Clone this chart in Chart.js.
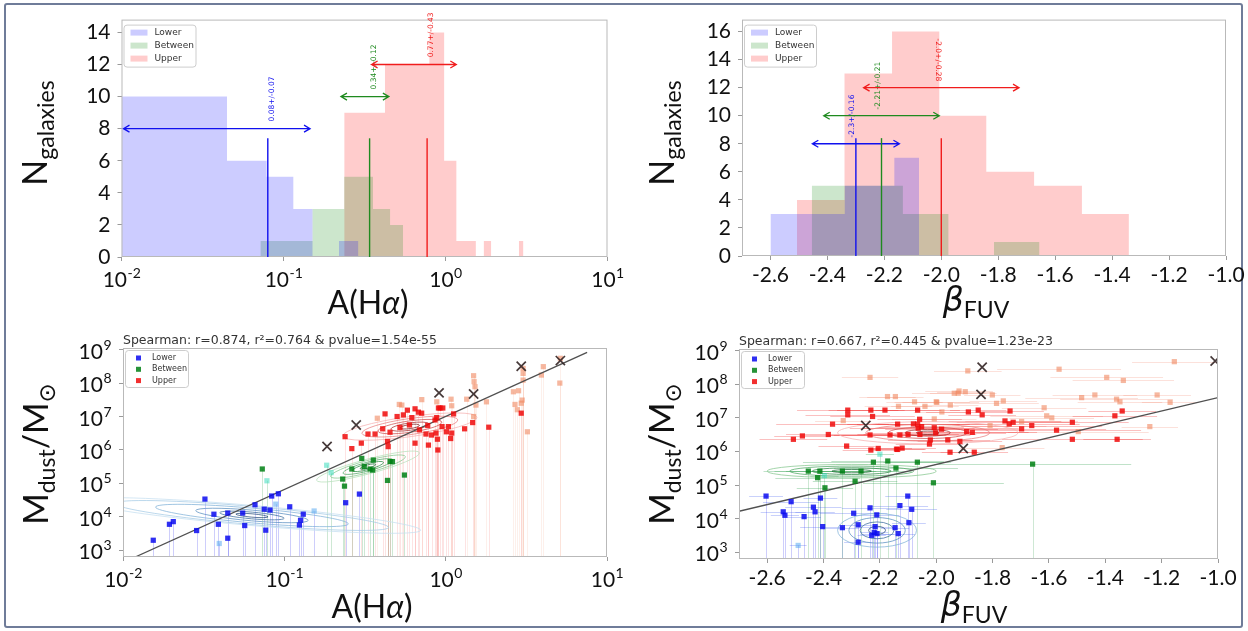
<!DOCTYPE html>
<html lang="en">
<head>
<meta charset="utf-8">
<title>Dust mass vs A(Hα) and β_FUV</title>
<script src="https://cdn.jsdelivr.net/npm/chart.js"></script>
<style>
  html, body { margin: 0; padding: 0; background: #fff; }
  body { width: 1248px; height: 631px; position: relative; overflow: hidden; font-family: Lato, "DejaVu Sans", sans-serif; color: #111; }
  #frame { position: absolute; left: 4px; top: 3px; width: 1239px; height: 625px; border: 2px solid #6f7c99; border-radius: 3px; box-sizing: border-box; }
  canvas { position: absolute; }
  .xt, .yt { position: absolute; white-space: nowrap; line-height: 1; }
  .xt { transform: translate(-50%, -50%); font-size: 32px; }
  .yt { transform: translate(-50%, -50%) rotate(-90deg); font-size: 34px; }
  .sub { font-size: 23px; vertical-align: -0.32em; }
  .beta { font-family: "DejaVu Sans", sans-serif; font-style: italic; font-size: 33px; }
</style>
</head>
<body>
<div id="frame"></div>
<canvas id="histAha" width="590" height="300" style="left:40px;top:0"></canvas>
<canvas id="histBeta" width="618" height="300" style="left:630px;top:0"></canvas>
<canvas id="dustAha" width="590" height="321" style="left:40px;top:310px"></canvas>
<canvas id="dustBeta" width="618" height="321" style="left:630px;top:310px"></canvas>

<div class="yt" style="left:37px;top:133px">N<span class="sub">galaxies</span></div>
<div class="yt" style="left:664px;top:133px">N<span class="sub">galaxies</span></div>
<div class="yt" style="left:38px;top:454px">M<span class="sub">dust</span>/M<span class="sub">⊙</span></div>
<div class="yt" style="left:664px;top:454px">M<span class="sub">dust</span>/M<span class="sub">⊙</span></div>
<div class="xt" style="left:368px;top:302px">A(H<i>α</i>)</div>
<div class="xt" style="left:372px;top:606px">A(H<i>α</i>)</div>
<div class="xt" style="left:976px;top:302px"><span class="beta">β</span><span class="sub">FUV</span></div>
<div class="xt" style="left:974px;top:607px"><span class="beta">β</span><span class="sub">FUV</span></div>

<script>
// ---------- DATA: A(Hα) histograms (bin edges + counts) ----------
const ahaLowerEdges = [0.009, 0.0448, 0.0787, 0.115, 0.151, 0.22, 0.29];
const ahaLowerCounts = [10, 6, 5, 3, 0, 1];
const ahaBetweenEdges = [0.072, 0.151, 0.237, 0.357, 0.455, 0.548];
const ahaBetweenCounts = [1, 3, 5, 3, 2];
const ahaUpperEdges = [0.237, 0.423, 0.609, 0.795, 0.981, 1.167, 1.353, 1.539, 1.725, 1.911, 2.841, 3.027];
const ahaUpperCounts = [9, 12, 12, 14, 6, 1, 1, 0, 1, 0, 1];
const ahaMedians = [0.08, 0.34, 0.77];
const ahaSpreads = [0.07, 0.12, 0.43];
const ahaArrowLevels = [8, 10, 12];
const ahaMedianTops = [7.4, 7.4, 7.4];
const ahaNotes = ['0.08+/-0.07', '0.34+/-0.12', '0.77+/-0.43'];
const ahaTicks = [0.01, 0.1, 1, 10];
const ahaCountTicks = [0, 2, 4, 6, 8, 10, 12, 14];

// ---------- DATA: β_FUV histograms ----------
const betaLowerEdges = [-2.6, -2.513, -2.426, -2.339, -2.252, -2.165, -2.078];
const betaLowerCounts = [3, 3, 3, 5, 5, 7];
const betaBetweenEdges = [-2.455, -2.295, -2.135, -1.975, -1.815, -1.655];
const betaBetweenCounts = [5, 5, 3, 0, 1];
const betaUpperEdges = [-2.507, -2.34, -2.173, -2.007, -1.842, -1.674, -1.506, -1.341];
const betaUpperCounts = [4, 13, 16, 10, 6, 5, 3];
const betaMedians = [-2.3, -2.21, -2.0];
const betaSpreads = [0.16, 0.21, 0.28];
const betaArrowLevels = [8, 10, 12];
const betaMedianTops = [8.4, 8.4, 8.4];
const betaNotes = ['-2.3+/-0.16', '-2.21+/-0.21', '-2.0+/-0.28'];
const betaTicks = [-2.6, -2.4, -2.2, -2.0, -1.8, -1.6, -1.4, -1.2, -1.0];
const betaCountTicks = [0, 2, 4, 6, 8, 10, 12, 14, 16];

// ---------- DATA: M_dust vs A(Hα) ----------
const dustTicks = [1e3, 1e4, 1e5, 1e6, 1e7, 1e8, 1e9];
const ahaLowerPts = [[0.0154, 2.0e3], [0.0194, 6.0e3], [0.0205, 7.2e3], [0.0286, 3.9e3], [0.0322, 3.4e4], [0.0366, 1.2e4], [0.039, 6.0e3], [0.0446, 1.3e4], [0.0446, 2.3e3], [0.0552, 1.3e4], [0.0568, 5.5e3], [0.0658, 2.3e4], [0.0751, 1.7e4], [0.0767, 4.0e3], [0.0815, 1.6e4], [0.0835, 4.2e4], [0.0918, 4.9e4], [0.108, 2.0e4], [0.124, 5.7e3], [0.126, 7.9e3], [0.131, 1.2e4], [0.24, 2.65e4], [0.292, 4.8e4]];
const ahaLowerFaint = [[0.0395, 1.6e3], [0.0885, 2.4e4], [0.153, 1.5e4]];
const ahaBetweenPts = [[0.073, 2.7e5], [0.302, 5.6e5], [0.313, 3.2e5], [0.356, 5.0e5], [0.262, 2.7e5], [0.23, 1.35e5], [0.236, 8.3e4], [0.34, 2.7e5], [0.353, 2.5e5], [0.452, 4.5e5], [0.468, 4.5e5], [0.436, 1.23e5], [0.555, 1.78e5]];
const ahaBetweenFaint = [[0.078, 1.2e5], [0.183, 3.5e5], [0.195, 2.1e5]];
const ahaUpperPts = [[0.238, 2.5e6], [0.262, 1.1e6], [0.421, 1.2e7], [0.365, 3.0e6], [0.407, 4.3e6], [0.452, 3.4e6], [0.44, 1.26e6], [0.436, 1.8e6], [0.521, 4.7e6], [0.547, 1.12e7], [0.579, 1.55e7], [0.596, 5.6e6], [0.617, 9.3e6], [0.646, 1.7e7], [0.678, 1.35e7], [0.687, 4.0e6], [0.646, 1.6e6], [0.755, 3.0e6], [0.774, 5.4e6], [0.782, 1.4e6], [0.818, 2.8e6], [0.859, 7.9e6], [0.871, 3.2e6], [0.889, 2.1e6], [0.902, 1.8e7], [0.923, 1.8e7], [0.96, 1.8e7], [1.01, 3.5e6], [1.04, 5.0e6], [1.074, 2.2e6], [1.09, 3.2e6], [0.894, 1.0e6], [1.31, 4.3e6], [1.47, 6.6e6], [1.85, 4.8e6], [0.88, 9.3e6], [2.94, 1.26e7], [0.50, 1.0e7], [0.71, 1.26e7], [0.30, 1.6e6], [0.33, 3.0e6], [0.95, 5.0e6], [1.12, 1.2e7]];
const ahaUpperFaint = [[0.516, 2.3e7], [0.535, 2.2e7], [0.377, 8.9e6], [0.711, 3.2e7], [0.881, 2.75e7], [1.49, 1.66e8], [1.5, 1.1e8], [1.52, 7.8e7], [1.49, 1.0e7], [1.54, 2.2e7], [2.63, 5.5e7], [2.69, 2.3e7], [1.35, 3.3e7], [1.79, 2.75e7], [2.83, 5.9e7], [2.98, 3.1e7], [2.94, 2.5e7], [2.78, 1.6e7], [3.02, 1.95e8], [3.02, 1.23e8], [3.02, 2.75e8], [4.03, 3.1e8], [3.92, 1.74e8], [5.14, 5.5e8], [5.1, 1.0e8], [3.21, 3.5e6], [1.08, 3.3e7], [1.09, 2.1e7]];
const ahaCrosses = [[0.184, 1.27e6], [0.279, 5.6e6], [0.91, 5.1e7], [1.49, 4.7e7], [2.94, 3.2e8], [5.14, 4.7e8]];
const ahaFit = [[0.0119, 631], [7.53, 8.3e8]];
// contour rings: centre (x, y) and radii in axis units (decades on log axes)
const ahaContours = [
  { group: 'lower', x: 0.063, y: 1.1e4, rx: [0.1, 0.2, 0.35, 0.6, 0.85, 1.05], ry: [0.05, 0.1, 0.16, 0.22, 0.27, 0.3], rot: 5 },
  { group: 'between', x: 0.33, y: 3.2e5, rx: [0.05, 0.1, 0.16, 0.24, 0.33], ry: [0.05, 0.09, 0.13, 0.18, 0.22], rot: -15 },
  { group: 'upper', x: 0.6, y: 5.0e6, rx: [0.06, 0.12, 0.2, 0.3, 0.42], ry: [0.06, 0.11, 0.17, 0.24, 0.3], rot: -8 }
];
const ahaSpearman = 'Spearman: r=0.874, r²=0.764 & pvalue=1.54e-55';

// ---------- DATA: M_dust vs β_FUV  ([x, y, x error]) ----------
const betaLowerPts = [[-2.604, 4.7e4, 0.06], [-2.543, 1.6e4, 0.08], [-2.537, 1.26e4, 0.05], [-2.515, 3.2e4, 0.1], [-2.469, 1.15e4, 0.06], [-2.436, 2.2e4, 0.1], [-2.43, 1.6e4, 0.07], [-2.411, 4.1e4, 0.06], [-2.403, 5.8e3, 0.08], [-2.333, 5.4e3, 0.06], [-2.293, 1.45e4, 0.12], [-2.277, 6.6e3, 0.05], [-2.277, 2.0e3, 0.05], [-2.235, 2.1e4, 0.1], [-2.229, 3.2e3, 0.05], [-2.22, 3.9e3, 0.05], [-2.21, 3.6e3, 0.06], [-2.211, 1.3e4, 0.08], [-2.217, 5.8e3, 0.07], [-2.146, 5.4e3, 0.05], [-2.135, 3.6e3, 0.06], [-2.129, 2.45e4, 0.1], [-2.097, 7.6e3, 0.06], [-2.101, 4.7e4, 0.08], [-2.087, 1.9e4, 0.09]];
const betaLowerFaint = [[-2.49, 1.6e3, 0.03]];
const betaBetweenPts = [[-2.454, 2.6e5, 0.12], [-2.413, 2.6e5, 0.2], [-2.421, 1.66e5, 0.15], [-2.395, 8.3e4, 0.1], [-2.333, 2.6e5, 0.2], [-2.288, 1.3e5, 0.15], [-2.267, 2.6e5, 0.18], [-2.223, 4.8e5, 0.25], [-2.172, 5.2e5, 0.2], [-2.143, 3.2e5, 0.22], [-2.067, 4.8e5, 0.12], [-2.01, 1.17e5, 0.25], [-1.658, 4.2e5, 0.35]];
const betaBetweenFaint = [[-2.2, 8.3e5, 0.05], [-2.397, 1.9e5, 0.05]];
const betaUpperPts = [[-2.507, 2.3e6, 0.12], [-2.475, 2.9e6, 0.1], [-2.383, 3.2e6, 0.15], [-2.368, 6.5e6, 0.2], [-2.318, 1.45e6, 0.1], [-2.314, 1.7e7, 0.18], [-2.314, 1.23e7, 0.15], [-2.232, 1.7e7, 0.12], [-2.226, 1.1e7, 0.15], [-2.182, 1.7e7, 0.2], [-2.235, 3.1e6, 0.25], [-2.232, 1.1e6, 0.1], [-2.206, 1.23e6, 0.12], [-2.164, 3.1e6, 0.2], [-2.137, 6.5e6, 0.22], [-2.129, 3.1e6, 0.25], [-2.137, 1.15e6, 0.1], [-2.121, 1.26e6, 0.12], [-2.066, 6.5e6, 0.25], [-2.064, 4.9e6, 0.2], [-2.052, 5.5e6, 0.15], [-2.058, 3.2e6, 0.2], [-2.066, 1.7e7, 0.15], [-2.1, 3.2e6, 0.18], [-2.081, 6.6e6, 0.2], [-2.059, 9.1e6, 0.15], [-2.007, 5.1e6, 0.3], [-2.002, 3.6e6, 0.25], [-1.981, 4.6e6, 0.2], [-2.021, 2.2e6, 0.15], [-2.024, 1.66e6, 0.12], [-1.951, 9.5e5, 0.1], [-1.865, 9.5e5, 0.12], [-1.916, 2.0e6, 0.15], [-1.851, 1.7e7, 0.1], [-1.837, 1.23e7, 0.12], [-1.886, 1.5e7, 0.15], [-1.892, 3.9e6, 0.25], [-1.872, 3.7e6, 0.2], [-1.959, 2.2e6, 0.15], [-1.738, 1.6e7, 0.12], [-1.756, 8.1e6, 0.2], [-1.741, 6.6e6, 0.25], [-1.727, 7.4e6, 0.2], [-1.697, 4.7e6, 0.3], [-1.661, 5.9e6, 0.25], [-1.573, 4.3e6, 0.3], [-1.517, 7.4e6, 0.2], [-1.517, 2.3e6, 0.25], [-1.366, 1.15e7, 0.15], [-1.34, 1.6e7, 0.12], [-1.358, 2.3e6, 0.12], [-2.141, 1.17e6, 0.1]];
const betaUpperFaint = [[-1.888, 2.5e8, 0.12], [-1.564, 2.8e8, 0.22], [-1.395, 1.6e8, 0.2], [-1.336, 1.3e8, 0.18], [-1.936, 5.4e7, 0.15], [-1.919, 6.3e7, 0.12], [-1.801, 4.8e7, 0.1], [-1.998, 2.9e7, 0.15], [-2.04, 2.2e7, 0.12], [-1.786, 2.7e7, 0.15], [-1.762, 3.2e7, 0.12], [-1.98, 1.5e7, 0.1], [-1.617, 2.0e7, 0.15], [-1.608, 1.15e7, 0.2], [-1.59, 1.0e7, 0.15], [-1.484, 4.0e7, 0.2], [-1.437, 4.8e7, 0.15], [-1.36, 3.6e7, 0.2], [-1.348, 3.0e7, 0.15], [-1.697, 7.8e6, 0.2], [-1.766, 1.3e6, 0.15], [-1.809, 5.9e6, 0.2], [-2.007, 9.3e6, 0.15], [-1.496, 3.9e6, 0.25], [-2.235, 1.6e8, 0.1], [-1.155, 4.7e8, 0.15], [-1.216, 4.8e7, 0.12], [-1.17, 2.9e7, 0.1], [-1.242, 5.5e6, 0.1], [-2.173, 4.3e7, 0.1], [-2.145, 4.3e7, 0.1], [-2.134, 2.2e7, 0.12], [-2.077, 3.0e7, 0.1], [-2.0, 3.0e7, 0.12], [-1.95, 2.4e7, 0.1], [-1.897, 6.0e7, 0.1], [-1.922, 5.4e7, 0.1], [-2.33, 8.3e6, 0.1]];
const betaCrosses = [[-2.25, 5.9e6], [-1.904, 1.23e6], [-1.837, 3.2e8], [-1.841, 5.0e7], [-1.01, 4.9e8]];
const betaFit = [[-2.7, 1.66e4], [-1.0, 4.0e7]];
const betaContours = [
  { group: 'lower', x: -2.21, y: 4.5e3, rx: [0.03, 0.06, 0.1, 0.14], ry: [0.12, 0.25, 0.38, 0.5], rot: 0 },
  { group: 'between', x: -2.3, y: 2.6e5, rx: [0.07, 0.14, 0.22, 0.3], ry: [0.05, 0.1, 0.15, 0.2], rot: 0 },
  { group: 'upper', x: -2.03, y: 3.6e6, rx: [0.04, 0.08, 0.14, 0.22, 0.32], ry: [0.05, 0.1, 0.17, 0.25, 0.33], rot: 0 }
];
const betaSpearman = 'Spearman: r=0.667, r²=0.445 & pvalue=1.23e-23';

const groupLabels = ['Lower', 'Between', 'Upper'];

// ---------- STYLE ----------
const FILL = { lower: 'rgba(0,0,255,0.2)', between: 'rgba(0,128,0,0.2)', upper: 'rgba(255,0,0,0.2)' };
const LINE = { lower: '#1010ee', between: '#1f8a1f', upper: '#f01c1c' };
const DOT = {
  lower: 'rgba(10,10,240,0.85)', between: 'rgba(0,128,20,0.85)', upper: 'rgba(240,10,10,0.85)',
  lowerFaint: 'rgba(90,170,240,0.55)', betweenFaint: 'rgba(60,220,190,0.55)', upperFaint: 'rgba(240,135,95,0.6)'
};
const SHADES = {
  lower: ['#2b4f7e', '#3b6c9e', '#5a8fc0', '#80b1d8', '#a6cbe6', '#c5dff0'],
  between: ['#1e6b35', '#2f8a47', '#52a865', '#86c78f', '#b8e0bb'],
  upper: ['#7a1c1c', '#a83232', '#d05050', '#e88080', '#f5b0b0']
};
const TICK_FONT = { family: 'Lato', size: 21 };
const GRID = { drawOnChartArea: false, drawTicks: true, tickLength: 4, color: '#9a9a9a' };

// ---------- helpers ----------
function histDataset(edges, counts, color) {
  const pts = counts.map((c, i) => ({ x: edges[i], y: c }));
  pts.push({ x: edges[edges.length - 1], y: 0 });
  return { data: pts, stepped: 'before', fill: 'origin', backgroundColor: color, borderColor: 'rgba(0,0,0,0)', borderWidth: 0, pointRadius: 0 };
}

function pointSet(pts, color) {
  return { data: pts.map(p => ({ x: p[0], y: p[1] })), pointStyle: 'rect', pointRadius: 3.7, backgroundColor: color, borderWidth: 0 };
}

function clipArea(ctx, a) {
  ctx.beginPath();
  ctx.rect(a.left, a.top, a.right - a.left, a.bottom - a.top);
  ctx.clip();
}

function shiftValue(scale, v, d) {
  return scale.type === 'logarithmic' ? v * Math.pow(10, d) : v + d;
}

function drawFrame(chart) {
  const { ctx, chartArea: a } = chart;
  ctx.save();
  ctx.strokeStyle = '#b9b9b9';
  ctx.lineWidth = 1;
  ctx.strokeRect(a.left + 0.5, a.top + 0.5, a.right - a.left - 1, a.bottom - a.top - 1);
  ctx.restore();
}

function legendBox(ctx, x, y, w, h) {
  ctx.fillStyle = 'rgba(255,255,255,0.85)';
  ctx.strokeStyle = 'rgba(200,200,200,0.9)';
  ctx.lineWidth = 1;
  ctx.beginPath();
  if (ctx.roundRect) ctx.roundRect(x + 0.5, y + 0.5, w, h, 3); else ctx.rect(x + 0.5, y + 0.5, w, h);
  ctx.fill();
  ctx.stroke();
}

function drawHistLegend(chart) {
  const { ctx, chartArea: a } = chart;
  const x0 = a.left + 2, y0 = a.top + 5;
  ctx.save();
  legendBox(ctx, x0, y0, 72, 42);
  ctx.font = '9px "DejaVu Sans"';
  ctx.textBaseline = 'middle';
  ['lower', 'between', 'upper'].forEach((g, i) => {
    const ry = y0 + 8 + i * 13;
    ctx.fillStyle = FILL[g];
    ctx.fillRect(x0 + 7, ry - 3, 17, 6);
    ctx.fillStyle = '#333';
    ctx.fillText(groupLabels[i], x0 + 31, ry);
  });
  ctx.restore();
}

function drawScatterLegend(chart) {
  const { ctx, chartArea: a } = chart;
  const x0 = a.left + 2, y0 = a.top + 2;
  ctx.save();
  legendBox(ctx, x0, y0, 63, 37);
  ctx.font = '8px "DejaVu Sans"';
  ctx.textBaseline = 'middle';
  ['lower', 'between', 'upper'].forEach((g, i) => {
    const ry = y0 + 8 + i * 11.3;
    ctx.fillStyle = DOT[g];
    ctx.fillRect(x0 + 11, ry - 2.5, 5, 5);
    ctx.fillStyle = '#333';
    ctx.fillText(groupLabels[i], x0 + 27, ry);
  });
  ctx.restore();
}

// log tick labels as 10 with a raised exponent
function drawPowLabels(chart, axisId) {
  const s = chart.scales[axisId];
  const { ctx, chartArea: a } = chart;
  ctx.save();
  ctx.fillStyle = '#111';
  ctx.textAlign = 'left';
  ctx.textBaseline = 'alphabetic';
  s.ticks.forEach(t => {
    const exp = String(Math.round(Math.log10(t.value)));
    const p = s.getPixelForValue(t.value);
    ctx.font = '21px Lato';
    const wb = ctx.measureText('10').width;
    ctx.font = '14px Lato';
    const we = ctx.measureText(exp).width;
    let x0, base;
    if (s.isHorizontal()) { x0 = p - (wb + we) / 2; base = a.bottom + 29.5; }
    else { x0 = a.left - 12 - wb - we; base = p + 9; }
    ctx.font = '21px Lato';
    ctx.fillText('10', x0, base);
    ctx.font = '14px Lato';
    ctx.fillText(exp, x0 + wb + 0.5, base - 9);
  });
  ctx.restore();
}

// median lines, <-> spread arrows and rotated notes
function drawMedians(chart, m) {
  const { ctx, scales: { x, y } } = chart;
  const groups = ['lower', 'between', 'upper'];
  ctx.save();
  m.medians.forEach((med, i) => {
    const col = LINE[groups[i]];
    const xp = x.getPixelForValue(med);
    ctx.strokeStyle = col;
    ctx.fillStyle = col;
    ctx.lineWidth = 1.4;
    ctx.beginPath();
    ctx.moveTo(xp, y.getPixelForValue(0));
    ctx.lineTo(xp, y.getPixelForValue(m.tops[i]));
    ctx.stroke();

    const yp = y.getPixelForValue(m.levels[i]);
    const x1 = x.getPixelForValue(med - m.spreads[i]) + 2;
    const x2 = x.getPixelForValue(med + m.spreads[i]) - 2;
    ctx.lineWidth = 1.3;
    ctx.beginPath();
    ctx.moveTo(x1, yp); ctx.lineTo(x2, yp);
    ctx.moveTo(x1 + 6, yp - 3.5); ctx.lineTo(x1, yp); ctx.lineTo(x1 + 6, yp + 3.5);
    ctx.moveTo(x2 - 6, yp - 3.5); ctx.lineTo(x2, yp); ctx.lineTo(x2 - 6, yp + 3.5);
    ctx.stroke();

    ctx.save();
    ctx.font = '7.5px "DejaVu Sans"';
    ctx.textBaseline = 'middle';
    ctx.translate(xp + m.side, y.getPixelForValue(m.levels[i] + 0.45));
    if (m.down[i]) { ctx.rotate(Math.PI / 2); ctx.textAlign = 'right'; }
    else { ctx.rotate(-Math.PI / 2); ctx.textAlign = 'left'; }
    ctx.fillText(m.notes[i], 0, 0);
    ctx.restore();
  });
  ctx.restore();
}

function drawContours(chart, rings) {
  const { ctx, chartArea: a, scales: { x, y } } = chart;
  ctx.save();
  clipArea(ctx, a);
  ctx.lineWidth = 1;
  rings.forEach(r => {
    const cx = x.getPixelForValue(r.x), cy = y.getPixelForValue(r.y);
    r.rx.forEach((rx, i) => {
      const rxp = Math.abs(x.getPixelForValue(shiftValue(x, r.x, rx)) - cx);
      const ryp = Math.abs(y.getPixelForValue(shiftValue(y, r.y, r.ry[i])) - cy);
      ctx.strokeStyle = SHADES[r.group][i];
      ctx.globalAlpha = 0.75;
      ctx.beginPath();
      ctx.ellipse(cx, cy, rxp, ryp, r.rot * Math.PI / 180, 0, Math.PI * 2);
      ctx.stroke();
    });
  });
  ctx.restore();
}

// faint lower error bars running to the bottom axis
function drawDrops(chart, pts, color) {
  const { ctx, chartArea: a, scales: { x, y } } = chart;
  ctx.save();
  clipArea(ctx, a);
  ctx.strokeStyle = color;
  ctx.lineWidth = 1;
  pts.forEach(p => {
    const xp = Math.round(x.getPixelForValue(p[0])) + 0.5;
    ctx.beginPath();
    ctx.moveTo(xp, y.getPixelForValue(p[1]));
    ctx.lineTo(xp, a.bottom);
    ctx.stroke();
  });
  ctx.restore();
}

function drawXErrors(chart, pts, color) {
  const { ctx, chartArea: a, scales: { x, y } } = chart;
  ctx.save();
  clipArea(ctx, a);
  ctx.strokeStyle = color;
  ctx.lineWidth = 1;
  pts.forEach(p => {
    const yp = Math.round(y.getPixelForValue(p[1])) + 0.5;
    ctx.beginPath();
    ctx.moveTo(x.getPixelForValue(p[0] - p[2]), yp);
    ctx.lineTo(x.getPixelForValue(p[0] + p[2]), yp);
    ctx.stroke();
  });
  ctx.restore();
}

function drawSpearman(chart, text) {
  const { ctx, chartArea: a } = chart;
  ctx.save();
  ctx.font = '12.5px "DejaVu Sans"';
  ctx.fillStyle = '#333';
  ctx.textBaseline = 'alphabetic';
  ctx.fillText(text, a.left, a.top - 4);
  ctx.restore();
}

function extrasPlugin(hooks) {
  return {
    id: 'extras',
    beforeDatasetsDraw(chart) { if (hooks.under) hooks.under(chart); },
    afterDatasetsDraw(chart) { drawFrame(chart); if (hooks.over) hooks.over(chart); }
  };
}

function baseOptions(o) {
  return {
    responsive: false, animation: false, devicePixelRatio: 1, events: [],
    layout: { padding: { top: o.padTop, right: o.padRight, left: 0, bottom: 0 } },
    plugins: { legend: { display: false }, tooltip: { enabled: false } },
    scales: {
      x: {
        type: o.xType, min: o.xMin, max: o.xMax,
        afterBuildTicks: s => { s.ticks = o.xTicks.map(v => ({ value: v })); },
        afterFit: s => { s.height = o.xHeight; },
        ticks: o.xFormat
          ? { display: true, font: TICK_FONT, color: '#111', padding: 3, maxRotation: 0, autoSkip: false, callback: o.xFormat }
          : { display: false },
        grid: GRID, border: { display: false }
      },
      y: {
        type: o.yType, min: o.yMin, max: o.yMax,
        afterBuildTicks: s => { s.ticks = o.yTicks.map(v => ({ value: v })); },
        afterFit: s => { s.width = o.yWidth; },
        ticks: o.yType === 'logarithmic' ? { display: false } : { font: TICK_FONT, color: '#111', padding: 7 },
        grid: GRID, border: { display: false }
      }
    }
  };
}

// ---------- charts ----------
function initHistAha() {
  const canvas = document.getElementById('histAha');
  if (!canvas) return;
  new Chart(canvas, {
    type: 'line',
    data: { datasets: [
      histDataset(ahaLowerEdges, ahaLowerCounts, FILL.lower),
      histDataset(ahaBetweenEdges, ahaBetweenCounts, FILL.between),
      histDataset(ahaUpperEdges, ahaUpperCounts, FILL.upper)
    ] },
    options: baseOptions({
      xType: 'logarithmic', xMin: 0.01, xMax: 10, xTicks: ahaTicks,
      yType: 'linear', yMin: 0, yMax: 14.8, yTicks: ahaCountTicks,
      yWidth: 81.5, xHeight: 43, padTop: 15, padRight: 22.5
    }),
    plugins: [extrasPlugin({ over: chart => {
      drawPowLabels(chart, 'x');
      drawMedians(chart, { medians: ahaMedians, spreads: ahaSpreads, levels: ahaArrowLevels, tops: ahaMedianTops, notes: ahaNotes, side: 4, down: [false, false, false] });
      drawHistLegend(chart);
    } })]
  });
}

function initHistBeta() {
  const canvas = document.getElementById('histBeta');
  if (!canvas) return;
  new Chart(canvas, {
    type: 'line',
    data: { datasets: [
      histDataset(betaLowerEdges, betaLowerCounts, FILL.lower),
      histDataset(betaBetweenEdges, betaBetweenCounts, FILL.between),
      histDataset(betaUpperEdges, betaUpperCounts, FILL.upper)
    ] },
    options: baseOptions({
      xType: 'linear', xMin: -2.7, xMax: -1.0, xTicks: betaTicks, xFormat: v => v.toFixed(1),
      yType: 'linear', yMin: 0, yMax: 16.85, yTicks: betaCountTicks,
      yWidth: 112, xHeight: 44, padTop: 15, padRight: 22
    }),
    plugins: [extrasPlugin({ over: chart => {
      drawMedians(chart, { medians: betaMedians, spreads: betaSpreads, levels: betaArrowLevels, tops: betaMedianTops, notes: betaNotes, side: -3.5, down: [false, false, true] });
      drawHistLegend(chart);
    } })]
  });
}

function initDust(canvasId, d) {
  const canvas = document.getElementById(canvasId);
  if (!canvas) return;
  new Chart(canvas, {
    type: 'scatter',
    data: { datasets: [
      { data: d.crosses.map(p => ({ x: p[0], y: p[1] })), pointStyle: 'crossRot', pointRadius: 6.5, borderColor: 'rgba(50,35,35,0.9)', borderWidth: 1.7 },
      pointSet(d.upper, DOT.upper),
      pointSet(d.between, DOT.between),
      pointSet(d.lower, DOT.lower),
      { data: d.fit.map(p => ({ x: p[0], y: p[1] })), showLine: true, pointRadius: 0, borderColor: '#505050', borderWidth: 1.3 },
      pointSet(d.upperFaint, DOT.upperFaint),
      pointSet(d.betweenFaint, DOT.betweenFaint),
      pointSet(d.lowerFaint, DOT.lowerFaint)
    ] },
    options: baseOptions(d.axes),
    plugins: [extrasPlugin({
      under: chart => {
        drawDrops(chart, d.lower.concat(d.lowerFaint), 'rgba(60,60,240,0.25)');
        drawDrops(chart, d.between.concat(d.betweenFaint), 'rgba(30,150,60,0.22)');
        if (d.upperDrops) {
          drawDrops(chart, d.upper, 'rgba(240,40,40,0.13)');
          drawDrops(chart, d.upperFaint, 'rgba(240,140,100,0.13)');
        }
        if (d.xErrors) {
          drawXErrors(chart, d.lower.concat(d.lowerFaint), 'rgba(60,90,240,0.28)');
          drawXErrors(chart, d.between.concat(d.betweenFaint), 'rgba(30,150,60,0.28)');
          drawXErrors(chart, d.upperFaint, 'rgba(240,120,90,0.22)');
          drawXErrors(chart, d.upper, 'rgba(240,30,30,0.28)');
        }
        drawContours(chart, d.contours);
      },
      over: chart => {
        drawPowLabels(chart, 'y');
        if (chart.scales.x.type === 'logarithmic') drawPowLabels(chart, 'x');
        drawScatterLegend(chart);
        drawSpearman(chart, d.spearman);
      }
    })]
  });
}

document.addEventListener('DOMContentLoaded', function () {
  initHistAha();
  initHistBeta();
  initDust('dustAha', {
    lower: ahaLowerPts, lowerFaint: ahaLowerFaint, between: ahaBetweenPts, betweenFaint: ahaBetweenFaint,
    upper: ahaUpperPts, upperFaint: ahaUpperFaint, crosses: ahaCrosses, fit: ahaFit,
    contours: ahaContours, spearman: ahaSpearman, upperDrops: true, xErrors: false,
    axes: {
      xType: 'logarithmic', xMin: 0.01, xMax: 10, xTicks: ahaTicks,
      yType: 'logarithmic', yMin: 631, yMax: 1.12e9, yTicks: dustTicks,
      yWidth: 83, xHeight: 74, padTop: 38, padRight: 23
    }
  });
  initDust('dustBeta', {
    lower: betaLowerPts, lowerFaint: betaLowerFaint, between: betaBetweenPts, betweenFaint: betaBetweenFaint,
    upper: betaUpperPts, upperFaint: betaUpperFaint, crosses: betaCrosses, fit: betaFit,
    contours: betaContours, spearman: betaSpearman, upperDrops: false, xErrors: true,
    axes: {
      xType: 'linear', xMin: -2.7, xMax: -1.0, xTicks: betaTicks, xFormat: v => v.toFixed(1),
      yType: 'logarithmic', yMin: 631, yMax: 1.12e9, yTicks: dustTicks,
      yWidth: 109, xHeight: 72, padTop: 39, padRight: 30
    }
  });
});
</script>
</body>
</html>
